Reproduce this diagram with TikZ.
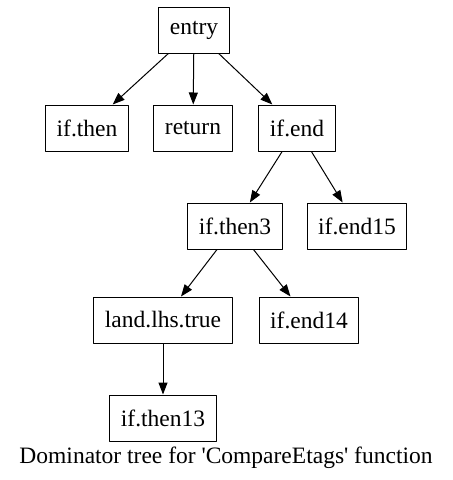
\documentclass[tikz,border=0pt]{standalone}
\usepackage{fontspec}
\setmainfont{Liberation Serif}
\usetikzlibrary{arrows.meta}
\begin{document}
\begin{tikzpicture}[x=1pt, y=-1pt, line cap=round, line join=round, >={Triangle[length=12pt,width=9pt]}, font=\fontsize{23.5}{28}\selectfont]
	\tikzset{blk/.style={draw, line width=1pt, minimum height=46pt, inner xsep=11pt, inner ysep=0pt}}
	\tikzset{edge/.style={->, line width=1pt}}
	\useasboundingbox (0,0) rectangle (453,480);
	\node[blk] (entry) at (194,30) {entry};
	\node[blk] (ifthen) at (87,128) {if.then};
	\node[blk] (ret) at (193,128) {return};
	\node[blk] (ifend) at (297,128) {if.end};
	\node[blk] (ifthen3) at (235,226) {if.then3};
	\node[blk] (ifend15) at (357,226) {if.end15};
	\node[blk] (landlhs) at (163,320) {land.lhs.true};
	\node[blk] (ifend14) at (309,320) {if.end14};
	\node[blk] (ifthen13) at (163,418) {if.then13};
	\node (caption) at (226,458) {Dominator tree for \textquotesingle CompareEtags\textquotesingle\ function};
	\draw[edge] (entry) -- (ifthen);
	\draw[edge] (entry) -- (ret);
	\draw[edge] (entry) -- (ifend);
	\draw[edge] (ifend) -- (ifthen3);
	\draw[edge] (ifend) -- (ifend15);
	\draw[edge] (ifthen3) -- (landlhs);
	\draw[edge] (ifthen3) -- (ifend14);
	\draw[edge] (landlhs) -- (ifthen13);
\end{tikzpicture}
\end{document}
